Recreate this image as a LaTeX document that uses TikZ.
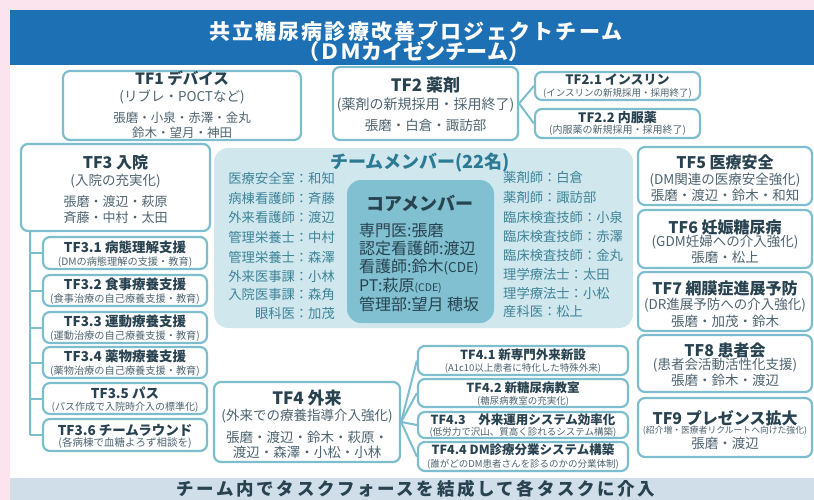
\documentclass[tikz,border=0pt]{standalone}
\usepackage{fontspec}
\setmainfont{Noto Sans CJK JP}
\usetikzlibrary{fit}
\definecolor{pinkbg}{RGB}{252,228,238}
\definecolor{hdr}{RGB}{30,112,180}
\definecolor{boxc}{RGB}{125,190,206}
\definecolor{ttc}{RGB}{40,66,80}
\definecolor{txc}{RGB}{78,100,112}
\definecolor{memc}{RGB}{208,231,238}
\definecolor{corec}{RGB}{128,192,208}
\definecolor{memt}{RGB}{62,132,152}
\definecolor{memtt}{RGB}{45,122,148}
\definecolor{band}{RGB}{208,222,234}
\newcommand\F[1]{\fontsize{#1}{#1}\selectfont}
\newcommand\bx[5]{\coordinate (#1-a) at (#2,#3); \coordinate (#1-b) at (#4,#5); \node[box, fit=(#1-a)(#1-b)] (#1) {};}
\begin{document}
\begin{tikzpicture}[x=1pt,y=-1pt,
  box/.style={draw=boxc, line width=2.2pt, rounded corners=7pt, fill=white, inner sep=0pt},
  ln/.style={draw=boxc, line width=2pt},
  tt/.style={text=ttc, inner sep=0pt, font=\bfseries\F{15.5}},
  st/.style={text=txc, inner sep=0pt, font=\F{13.5}},
  nm/.style={text=txc, inner sep=0pt, font=\F{13}},
  mt/.style={text=memt, inner sep=0pt, font=\F{13.3}},
  ct/.style={text=ttc, inner sep=0pt, font=\F{16}, anchor=west}]
\useasboundingbox (0,0) rectangle (814,500);
% backgrounds
\fill[pinkbg] (0,0) rectangle (814,500);
\fill[white] (10,10) rectangle (814,500);
\fill[hdr] (10,10) rectangle (814,65);
\fill[band] (10,478) rectangle (814,500);
\node[text=white, inner sep=0pt, font=\bfseries\F{21}\addfontfeature{LetterSpace=10}] (h1) at (416,31) {共立糖尿病診療改善プロジェクトチーム};
\node[text=white, inner sep=0pt, font=\bfseries\F{21}] (h2) at (414,51) {（ＤＭカイゼンチーム）};
\node[text=ttc, inner sep=0pt, font=\bfseries\F{17.5}\addfontfeature{LetterSpace=15}] (foot) at (416,489) {チーム内でタスクフォースを結成して各タスクに介入};

% TF1
\bx{tf1}{63}{71}{301}{140}
\node[tt] (tf1t) at (182,78) {TF1 デバイス};
\node[st] (tf1s) at (182,97) {(リブレ・POCTなど)};
\node[nm, font=\F{12.5}] (tf1n1) at (182,118) {張磨・小泉・赤澤・金丸};
\node[nm, font=\F{12.5}] (tf1n2) at (182,133) {鈴木・望月・神田};

% TF2
\bx{tf2}{333}{67}{518}{140}
\node[tt, font=\bfseries\F{17}] (tf2t) at (425.5,85) {TF2 薬剤};
\node[st, font=\F{14}] (tf2s) at (425.5,105) {(薬剤の新規採用・採用終了)};
\node[nm, font=\F{13.5}] (tf2n) at (425.5,125) {張磨・白倉・諏訪部};
\bx{tf21}{535}{72}{700}{100}
\node[tt, font=\bfseries\F{13}] (tf21t) at (617.5,80) {TF2.1 インスリン};
\node[st, font=\F{9.5}] (tf21s) at (617.5,93) {(インスリンの新規採用・採用終了)};
\bx{tf22}{535}{109}{700}{138}
\node[tt, font=\bfseries\F{13}] (tf22t) at (617.5,118) {TF2.2 内服薬};
\node[st, font=\F{10}] (tf22s) at (617.5,130) {(内服薬の新規採用・採用終了)};
\draw[ln] (tf2.east) -- (tf21.west);
\draw[ln] (tf2.east) -- (tf22.west);

% TF3
\bx{tf3}{21}{144}{210}{231}
\node[tt, font=\bfseries\F{16}] (tf3t) at (115.5,162) {TF3 入院};
\node[st] (tf3s) at (115.5,181) {(入院の充実化)};
\node[nm] (tf3n1) at (115.5,202) {張磨・渡辺・萩原};
\node[nm] (tf3n2) at (115.5,218) {斉藤・中村・太田};

\coordinate (spt) at (30,231);
\coordinate (spb) at (30,435);
\draw[ln] (spt) -- (spb);

\bx{tf31}{43}{237}{207}{269}
\node[tt, font=\bfseries\F{13.5}] (tf31t) at (125,247) {TF3.1 病態理解支援};
\node[st, font=\F{10.2}] (tf31s) at (125,262) {(DMの病態理解の支援・教育)};
\bx{tf32}{43}{275}{207}{306}
\node[tt, font=\bfseries\F{13.5}] (tf32t) at (125,284) {TF3.2 食事療養支援};
\node[st, font=\F{10.2}] (tf32s) at (125,299) {(食事治療の自己療養支援・教育)};
\bx{tf33}{43}{312}{207}{343}
\node[tt, font=\bfseries\F{13.5}] (tf33t) at (125,321) {TF3.3 運動療養支援};
\node[st, font=\F{10.2}] (tf33s) at (125,336) {(運動治療の自己療養支援・教育)};
\bx{tf34}{43}{347}{207}{378}
\node[tt, font=\bfseries\F{13.5}] (tf34t) at (125,356) {TF3.4 薬物療養支援};
\node[st, font=\F{10.2}] (tf34s) at (125,371) {(薬物治療の自己療養支援・教育)};
\bx{tf35}{43}{383}{207}{414}
\node[tt, font=\bfseries\F{13.5}] (tf35t) at (125,393) {TF3.5 パス};
\node[st, font=\F{10}] (tf35s) at (125,407) {(パス作成で入院時介入の標準化)};
\bx{tf36}{43}{419}{207}{451}
\node[tt, font=\bfseries\F{13.5}] (tf36t) at (125,430) {TF3.6 チームラウンド};
\node[st, font=\F{10.5}] (tf36s) at (125,443) {(各病棟で血糖よろず相談を)};
\foreach \b in {tf31,tf32,tf33,tf34,tf35,tf36}{\draw[ln] (\b.west) -- (\b.west -| spt);}

% members
\node[fill=memc, rounded corners=14pt, inner sep=0pt, minimum width=419pt, minimum height=180pt] (mem) at (423.5,238) {};
\node[text=memtt, inner sep=0pt, font=\bfseries\F{18}] (memt) at (420,163) {チームメンバー(22名)};
\node[mt, anchor=east] (m1) at (335,178) {医療安全室：和知};
\node[mt, anchor=east] (m2) at (335,198) {病棟看護師：斉藤};
\node[mt, anchor=east] (m3) at (335,217) {外来看護師：渡辺};
\node[mt, anchor=east] (m4) at (335,237) {管理栄養士：中村};
\node[mt, anchor=east] (m5) at (335,257) {管理栄養士：森澤};
\node[mt, anchor=east] (m6) at (335,276) {外来医事課：小林};
\node[mt, anchor=east] (m7) at (335,294) {入院医事課：森角};
\node[mt, anchor=east] (m8) at (335,313) {眼科医：加茂};
\node[mt, anchor=west] (r1) at (503,177) {薬剤師：白倉};
\node[mt, anchor=west] (r2) at (503,197) {薬剤師：諏訪部};
\node[mt, anchor=west] (r3) at (503,217) {臨床検査技師：小泉};
\node[mt, anchor=west] (r4) at (503,236) {臨床検査技師：赤澤};
\node[mt, anchor=west] (r5) at (503,255) {臨床検査技師：金丸};
\node[mt, anchor=west] (r6) at (503,274) {理学療法士：太田};
\node[mt, anchor=west] (r7) at (503,293) {理学療法士：小松};
\node[mt, anchor=west] (r8) at (503,311) {産科医：松上};
\node[fill=corec, rounded corners=14pt, inner sep=0pt, minimum width=147pt, minimum height=143pt] (core) at (420.5,251.5) {};
\node[text=ttc, inner sep=0pt, font=\bfseries\F{18}] (coret) at (420,203) {コアメンバー};
\node[ct] (c1) at (359,230) {専門医:張磨};
\node[ct] (c2) at (359,248) {認定看護師:渡辺};
\node[ct] (c3) at (359,267) {看護師:鈴木{\F{13.5}(CDE)}};
\node[ct] (c4) at (359,286) {PT:萩原{\F{10.5}(CDE)}};
\node[ct] (c5) at (359,304) {管理部:望月 穂坂};

% right column
\bx{tf5}{638}{147}{812}{205}
\node[tt, font=\bfseries\F{16}] (tf5t) at (725,162) {TF5 医療安全};
\node[st, font=\F{13.5}] (tf5s) at (725,180) {(DM関連の医療安全強化)};
\node[nm, font=\F{13.5}] (tf5n) at (725,195) {張磨・渡辺・鈴木・和知};
\bx{tf6}{638}{210}{812}{268}
\node[tt, font=\bfseries\F{16}] (tf6t) at (725,227) {TF6 妊娠糖尿病};
\node[st, font=\F{13.5}] (tf6s) at (725,242) {(GDM妊婦への介入強化)};
\node[nm, font=\F{13.5}] (tf6n) at (725,257) {張磨・松上};
\bx{tf7}{638}{272}{812}{331}
\node[tt, font=\bfseries\F{16}] (tf7t) at (725,288) {TF7 網膜症進展予防};
\node[st, font=\F{13.5}] (tf7s) at (725,305) {(DR進展予防への介入強化)};
\node[nm, font=\F{13.5}] (tf7n) at (725,321) {張磨・加茂・鈴木};
\bx{tf8}{638}{335}{812}{392}
\node[tt, font=\bfseries\F{16}] (tf8t) at (725,350) {TF8 患者会};
\node[st, font=\F{13.5}] (tf8s) at (725,365) {(患者会活動活性化支援)};
\node[nm, font=\F{13.5}] (tf8n) at (725,380) {張磨・鈴木・渡辺};
\bx{tf9}{638}{398}{812}{457}
\node[tt, font=\bfseries\F{16}] (tf9t) at (725,418) {TF9 プレゼンス拡大};
\node[st, font=\F{8.8}] (tf9s) at (725,430.5) {(紹介増・医療者リクルートへ向けた強化)};
\node[nm, font=\F{13.5}] (tf9n) at (725,443) {張磨・渡辺};

% TF4
\bx{tf4}{214}{382}{400}{462}
\node[tt, font=\bfseries\F{17}] (tf4t) at (307,398) {TF4 外来};
\node[st, font=\F{13.5}] (tf4s) at (307,416) {(外来での療養指導介入強化)};
\node[nm, font=\F{13.5}] (tf4n1) at (307,437) {張磨・渡辺・鈴木・萩原・};
\node[nm, font=\F{13.5}] (tf4n2) at (307,452) {渡辺・森澤・小松・小林};
\bx{tf41}{418}{346}{628}{375}
\node[tt, font=\bfseries\F{12.5}] (tf41t) at (523,355) {TF4.1 新専門外来新設};
\node[st, font=\F{9.5}] (tf41s) at (523,368) {(A1c10以上患者に特化した特殊外来)};
\bx{tf42}{418}{379}{628}{407}
\node[tt, font=\bfseries\F{12.5}] (tf42t) at (523,388) {TF4.2 新糖尿病教室};
\node[st, font=\F{9.5}] (tf42s) at (523,401) {(糖尿病教室の充実化)};
\bx{tf43}{418}{412}{628}{438}
\node[tt, font=\bfseries\F{12.5}] (tf43t) at (523,420) {TF4.3　外来運用システム効率化};
\node[st, font=\F{9.5}] (tf43s) at (523,432) {(低労力で沢山、質高く診れるシステム構築)};
\bx{tf44}{418}{442}{628}{471}
\node[tt, font=\bfseries\F{12.5}] (tf44t) at (523,450) {TF4.4 DM診療分業システム構築};
\node[st, font=\F{9.5}] (tf44s) at (523,464) {(誰がどのDM患者さんを診るのかの分業体制)};
\foreach \b in {tf41,tf42,tf43,tf44}{\draw[ln] (tf4.east) -- (\b.west);}
\end{tikzpicture}
\end{document}
